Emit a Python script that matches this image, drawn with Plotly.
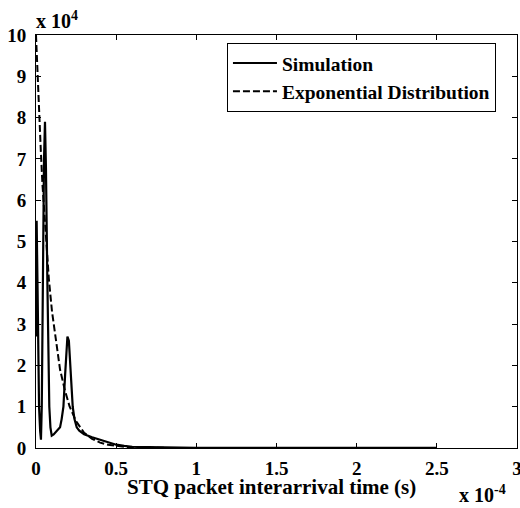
import plotly.graph_objects as go

# x in units of 1e-4 s, y in units of 1e4
sim_x = [0.0, 0.004, 0.01, 0.019, 0.026, 0.031, 0.036, 0.042, 0.05, 0.056, 0.062, 0.071, 0.078, 0.083,
         0.09, 0.098, 0.11, 0.13, 0.15, 0.16, 0.171, 0.182, 0.19, 0.196, 0.205, 0.215, 0.229, 0.24,
         0.254, 0.27, 0.3, 0.35, 0.4, 0.45, 0.5, 0.55, 0.6, 0.7, 0.8, 1.0, 1.5, 2.0, 2.5]
sim_y = [2.7, 5.5, 3.8, 1.0, 0.4, 0.2, 1.0, 4.0, 7.0, 7.9, 6.8, 4.0, 2.0, 1.0,
         0.5, 0.3, 0.33, 0.42, 0.5, 0.7, 1.0, 1.8, 2.4, 2.7, 2.6, 2.0, 1.0, 0.7,
         0.5, 0.42, 0.33, 0.26, 0.2, 0.13, 0.08, 0.05, 0.03, 0.02, 0.01, 0.005, 0.003, 0.002, 0.002]

exp_x = [0.0, 0.01, 0.02, 0.03, 0.04, 0.05, 0.06, 0.08, 0.1, 0.12, 0.15, 0.18, 0.21, 0.25,
         0.3, 0.35, 0.4, 0.45, 0.5, 0.55, 0.6, 0.7, 0.8, 1.0, 1.5, 2.0, 2.5]
exp_y = [10.0, 8.9, 8.0, 7.2, 6.4, 5.8, 5.2, 4.1, 3.3, 2.7, 1.9, 1.4, 1.0, 0.65,
         0.37, 0.22, 0.13, 0.08, 0.05, 0.03, 0.015, 0.006, 0.003, 0.001, 0.0, 0.0, 0.0]

x_ticks = [0, 0.5, 1, 1.5, 2, 2.5, 3]
x_tick_labels = ["0", "0.5", "1", "1.5", "2", "2.5", "3"]
y_ticks = [0, 1, 2, 3, 4, 5, 6, 7, 8, 9, 10]

FONT = "Liberation Serif"

fig = go.Figure()
fig.add_trace(go.Scatter(x=sim_x, y=sim_y, mode="lines", name="Simulation",
                         line=dict(color="black", width=2.2)))
fig.add_trace(go.Scatter(x=exp_x, y=exp_y, mode="lines", name="Exponential Distribution",
                         line=dict(color="black", width=2, dash="7px,3px")))

axis_common = dict(showline=True, linecolor="black", linewidth=1, mirror="ticks",
                   ticks="inside", ticklen=5, tickcolor="black", showgrid=False, zeroline=False,
                   automargin=False, ticklabeloverflow="allow",
                   tickfont=dict(family=FONT, size=19, color="black", weight="bold"))

fig.update_layout(
    width=520, height=508,
    margin=dict(l=36, r=3, t=35, b=60),
    plot_bgcolor="white", paper_bgcolor="white",
    showlegend=True,
    legend=dict(x=0.397, y=0.981, xanchor="left", yanchor="top",
                bordercolor="black", borderwidth=1, bgcolor="white",
                font=dict(family=FONT, size=19.5, color="black", weight="bold"),
                tracegroupgap=0, itemwidth=44),
    xaxis=dict(range=[0, 3], tickvals=x_ticks, ticktext=x_tick_labels,
               ticklabelstandoff=3, **axis_common),
    yaxis=dict(range=[0, 10], tickvals=y_ticks, ticklabelstandoff=5, **axis_common),
    annotations=[
        dict(text="STQ packet interarrival time (s)", xref="paper", yref="paper",
             x=0.49, y=-0.094, xanchor="center", yanchor="middle", showarrow=False,
             font=dict(family=FONT, size=21, color="black", weight="bold")),
        dict(text="x 10<sup>4</sup>", xref="paper", yref="paper", x=0.0, y=1.036,
             xanchor="left", yanchor="middle", showarrow=False, xshift=-2,
             font=dict(family=FONT, size=20, color="black", weight="bold")),
        dict(text="x 10<sup>-4</sup>", xref="paper", yref="paper", x=0.981, y=-0.111,
             xanchor="right", yanchor="middle", showarrow=False,
             font=dict(family=FONT, size=20, color="black", weight="bold")),
    ],
)

fig.write_html("out.html", config={"displayModeBar": False},
               post_script="document.body.style.margin='0';document.body.style.overflow='hidden';")
